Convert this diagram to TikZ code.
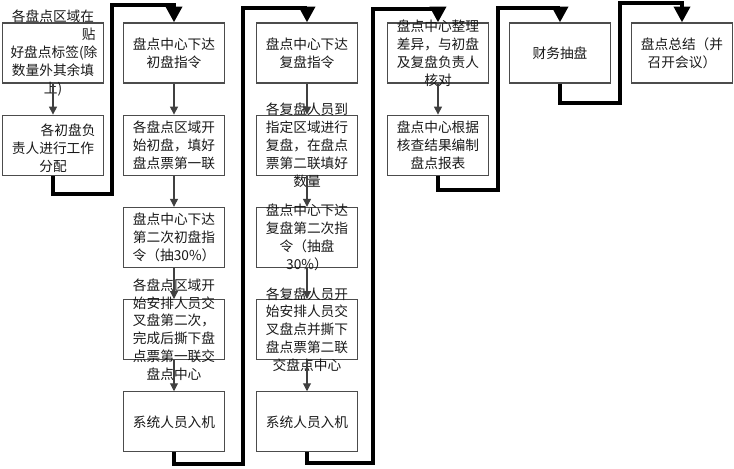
\documentclass[tikz,border=0pt]{standalone}
\usepackage{fontspec}
\newfontfamily\cjk{Noto Sans CJK SC}
\usetikzlibrary{arrows.meta,positioning}
\begin{document}
\begin{tikzpicture}[x=0.02cm,y=-0.02cm,node distance=0.62cm]
  \tikzstyle{box}=[rectangle,draw=black!70,line width=0.7pt,minimum width=2.02cm,minimum height=1.2cm,inner sep=0pt]
  \tikzstyle{txt}=[text width=1.7cm,align=center,inner sep=0pt,font=\cjk\fontsize{7.8}{10.2}\selectfont,text=black!90]
  \tikzstyle{link}=[draw=black!75,line width=0.6pt,-{Triangle[length=4.5pt,width=4.5pt]}]
  \tikzstyle{flow}=[line width=2.5pt,-{Triangle[length=9pt,width=9pt]}]
  \useasboundingbox (0,0) rectangle (734,468);
  \node[box] (a) at (53,53) {};
  \node[box,below=of a] (b) {};
  \node[box] (c) at (174,53) {};
  \node[box,below=of c] (d) {};
  \node[box,below=of d] (e) {};
  \node[box,below=of e] (f) {};
  \node[box,below=of f] (g) {};
  \node[box] (h) at (307,53) {};
  \node[box,below=of h] (i) {};
  \node[box,below=of i] (j) {};
  \node[box,below=of j] (k) {};
  \node[box,below=of k] (l) {};
  \node[box] (m) at (438,53) {};
  \node[box,below=of m] (n) {};
  \node[box] (o) at (560,53) {};
  \node[box] (p) at (682,53) {};
  \node[txt] (ta) at (a) {各盘点区域在\\\hspace*{0pt plus 1filll}贴\\好盘点标签(除\\数量外其余填\\上)};
  \node[txt] (tb) at (b) {\mbox{}\\\hspace*{0pt plus 1filll}各初盘负\\责人进行工作\\分配};
  \node[txt] (tc) at (c) {盘点中心下达\\初盘指令};
  \node[txt] (td) at (d) {各盘点区域开\\始初盘，填好\\盘点票第一联};
  \node[txt] (te) at (e) {盘点中心下达\\第二次初盘指\\令（抽30\%）};
  \node[txt] (tf) at (f) {各盘点区域开\\始安排人员交\\叉盘第二次，\\完成后撕下盘\\点票第一联交\\盘点中心};
  \node[txt] (tg) at (g) {系统人员入机};
  \node[txt] (th) at (h) {盘点中心下达\\复盘指令};
  \node[txt] (ti) at (i) {各复盘人员到\\指定区域进行\\复盘，在盘点\\票第二联填好\\数量};
  \node[txt] (tj) at (j) {盘点中心下达\\复盘第二次指\\令（抽盘\\30\%）};
  \node[txt] (tk) at (k) {各复盘人员开\\始安排人员交\\叉盘点并撕下\\盘点票第二联\\交盘点中心};
  \node[txt] (tl) at (l) {系统人员入机};
  \node[txt] (tm) at (m) {盘点中心整理\\差异，与初盘\\及复盘负责人\\核对};
  \node[txt] (tn) at (n) {盘点中心根据\\核查结果编制\\盘点报表};
  \node[txt] (to) at (o) {财务抽盘};
  \node[txt] (tp) at (p) {盘点总结（并\\召开会议）};
  \coordinate (k1) at (112,194);
  \coordinate (k1t) at (112,5);
  \coordinate (k2) at (243,464);
  \coordinate (k2t) at (243,8);
  \coordinate (k3) at (373,463);
  \coordinate (k3t) at (373,9);
  \coordinate (k4) at (498,190);
  \coordinate (k4t) at (498,8);
  \coordinate (k5) at (620,103);
  \coordinate (k5t) at (620,3);
  \draw[link] (a) -- (b);
  \draw[link] (c) -- (d);
  \draw[link] (d) -- (e);
  \draw[link] (e) -- (f);
  \draw[link] (f) -- (g);
  \draw[link] (h) -- (i);
  \draw[link] (i) -- (j);
  \draw[link] (j) -- (k);
  \draw[link] (k) -- (l);
  \draw[link] (m) -- (n);
  \draw[flow] (b.south) |- (k1) -- (k1t) -| (c.north);
  \draw[flow] (g.south) |- (k2) -- (k2t) -| (h.north);
  \draw[flow] (l.south) |- (k3) -- (k3t) -| (m.north);
  \draw[flow] (n.south) |- (k4) -- (k4t) -| (o.north);
  \draw[flow] (o.south) |- (k5) -- (k5t) -| (p.north);
\end{tikzpicture}
\end{document}
